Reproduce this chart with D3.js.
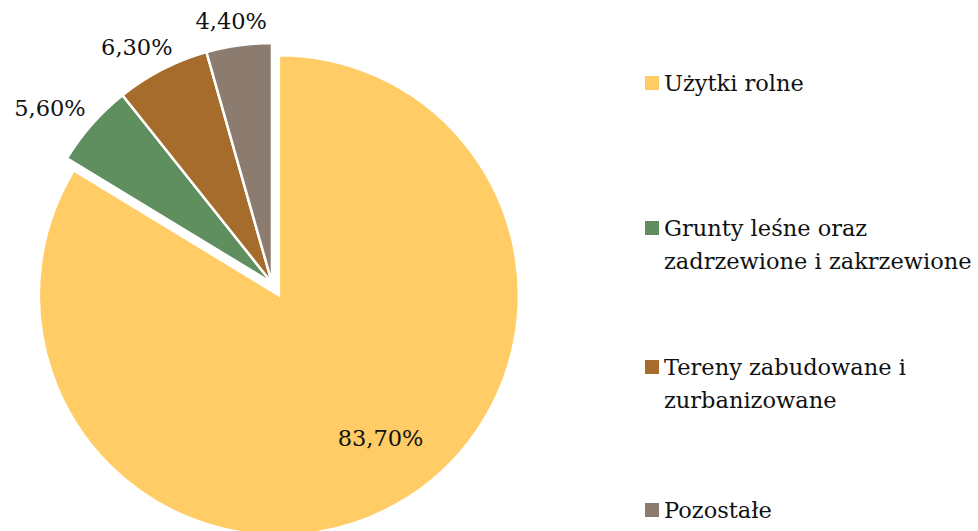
<!DOCTYPE html>
<html>
<head>
<meta charset="utf-8">
<script src="https://cdn.jsdelivr.net/npm/d3@7"></script>
<style>
  body { margin: 0; background: #fff; }
  svg text { font-family: "DejaVu Serif", serif; fill: #111; }
</style>
</head>
<body>
<div id="chart"></div>
<script>
// dane z wykresu
var categories = ["Użytki rolne", "Grunty leśne oraz zadrzewione i zakrzewione", "Tereny zabudowane i zurbanizowane", "Pozostałe"];
var legendLines = [["Użytki rolne"], ["Grunty leśne oraz", "zadrzewione i zakrzewione"], ["Tereny zabudowane i", "zurbanizowane"], ["Pozostałe"]];
var values = [83.7, 5.6, 6.3, 4.4];
var valueLabels = ["83,70%", "5,60%", "6,30%", "4,40%"];
var colors = ["#FFCC66", "#5F8F5F", "#A66C2B", "#8C7C70"];

var width = 978, height = 531;
var radius = 240;
var cx = 272, cy = 283;
var explode = 14;
var fontSize = 22.5;

var svg = d3.select("#chart")
  .append("svg")
  .attr("width", width)
  .attr("height", height);

var pie = d3.pie().sort(null).value(function(d) { return d; });
var arcs = pie(values);
var arc = d3.arc().innerRadius(0).outerRadius(radius);

function midAngle(d) { return (d.startAngle + d.endAngle) / 2; }

var g = svg.append("g").attr("transform", "translate(" + cx + "," + cy + ")");

g.selectAll("path")
  .data(arcs)
  .enter()
  .append("path")
  .attr("d", arc)
  .attr("fill", function(d, i) { return colors[i]; })
  .attr("stroke", "#fff")
  .attr("stroke-width", 2.5)
  .attr("transform", function(d, i) {
    if (i !== 0) return null;
    var a = midAngle(d);
    return "translate(" + (Math.sin(a) * explode) + "," + (-Math.cos(a) * explode) + ")";
  });

// etykiety danych
g.selectAll("text.lbl")
  .data(arcs)
  .enter()
  .append("text")
  .attr("class", "lbl")
  .attr("font-size", fontSize)
  .attr("text-anchor", "middle")
  .attr("dominant-baseline", "central")
  .attr("x", function(d, i) {
    var a = midAngle(d);
    if (i === 0) return Math.sin(a) * 175 + explode * Math.sin(a) + 16;
    return Math.sin(a) * (radius + 14) + Math.sin(a) * 42;
  })
  .attr("y", function(d, i) {
    var a = midAngle(d);
    if (i === 0) return -Math.cos(a) * 175 - explode * Math.cos(a) - 10;
    return -Math.cos(a) * (radius + 14) - Math.cos(a) * 11;
  })
  .text(function(d, i) { return valueLabels[i]; });

// legenda
var legendY = [83, 228, 367, 510];
var legend = svg.selectAll("g.leg")
  .data(categories)
  .enter()
  .append("g")
  .attr("class", "leg")
  .attr("transform", function(d, i) { return "translate(645," + legendY[i] + ")"; });

legend.append("rect")
  .attr("x", 0)
  .attr("y", -7)
  .attr("width", 14)
  .attr("height", 14)
  .attr("fill", function(d, i) { return colors[i]; });

legend.append("text")
  .attr("x", 19)
  .attr("y", 8)
  .attr("font-size", fontSize)
  .selectAll("tspan")
  .data(function(d, i) { return legendLines[i]; })
  .enter()
  .append("tspan")
  .attr("x", 19)
  .attr("dy", function(d, j) { return j === 0 ? 0 : 33; })
  .text(function(d) { return d; });
</script>
</body>
</html>
